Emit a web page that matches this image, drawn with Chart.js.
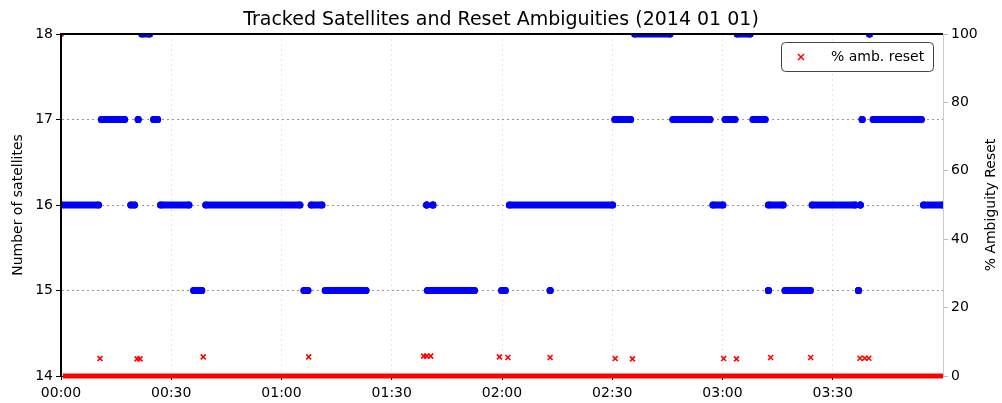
<!DOCTYPE html>
<html>
<head>
<meta charset="utf-8">
<script src="https://cdn.jsdelivr.net/npm/chart.js@4.4.0/dist/chart.umd.min.js"></script>
<style>
  html, body { margin: 0; padding: 0; background: #fff; }
  #wrap { width: 1002px; height: 403px; }
</style>
</head>
<body>
<div id="wrap"><canvas id="chart" width="1002" height="403"></canvas></div>
<script>
// DATA (time in minutes since 00:00)

// tracked satellites, stored as runs of constant count
const runStart = [0, 11.0, 19.0, 21.0, 22.0, 25.2, 27.1, 36.1, 39.4, 66.1, 68.1, 71.9,
                  99.5, 99.7, 101.2, 119.9, 122.0, 133.1, 150.7, 156.1, 166.5, 177.4,
                  180.7, 184.0, 188.3, 192.5, 192.5, 197.0, 204.4, 217.0, 217.5, 218.0,
                  220.0, 221.0, 234.7];
const runEnd   = [10.2, 17.3, 20.0, 21.0, 24.1, 26.3, 34.8, 38.3, 65.0, 67.2, 71.0, 83.0,
                  99.5, 112.5, 101.2, 120.9, 150.1, 133.1, 155.0, 165.7, 176.6, 180.1,
                  183.4, 187.5, 191.6, 196.5, 192.5, 203.9, 216.1, 217.0, 217.5, 218.0,
                  220.0, 234.1, 240];
const runSats  = [16, 17, 16, 17, 18, 17, 16, 15, 16, 15, 16, 15,
                  16, 15, 16, 15, 16, 15, 17, 18, 17, 16,
                  17, 18, 17, 16, 15, 15, 16, 15, 16, 17,
                  18, 17, 16];

// ambiguity resets (%)
const resetTimes = [0, 10.6, 20.7, 21.5, 38.7, 67.4, 98.7, 99.5, 100.6, 119.3, 121.6,
                    133.1, 150.8, 155.5, 180.3, 183.8, 193.1, 204.0, 217.4, 218.7, 219.8];
const resetPct   = [100, 5.1, 5.0, 5.0, 5.6, 5.6, 5.8, 5.8, 5.8, 5.6, 5.4,
                    5.4, 5.1, 5.0, 5.1, 5.0, 5.4, 5.4, 5.2, 5.2, 5.2];

// epochs with no reset (0 %)
const zeroTimes = [0.5, 240];
const zeroPct   = [0, 0];

// axes
const xTickValues = [0, 30, 60, 90, 120, 150, 180, 210];
const xTickLabels = ['00:00', '00:30', '01:00', '01:30', '02:00', '02:30', '03:00', '03:30'];
const satTicks = [14, 15, 16, 17, 18];
const pctTicks = [0, 20, 40, 60, 80, 100];

// build line data, one broken segment per run
function buildRuns() {
    const pts = [];
    for (let i = 0; i < runStart.length; i++) {
        pts.push({ x: runStart[i], y: runSats[i] });
        pts.push({ x: runEnd[i], y: runSats[i] });
        pts.push({ x: runEnd[i], y: null });
    }
    return pts;
}

const FONT = 'DejaVu Sans';
Chart.defaults.font.family = FONT;
Chart.defaults.font.size = 14;
Chart.defaults.color = '#000';

// top spine, right axis title and legend box
const extrasPlugin = {
    id: 'extras',
    afterDraw(chart) {
        const ctx = chart.ctx;
        const a = chart.chartArea;
        ctx.save();
        // top spine
        ctx.strokeStyle = '#000';
        ctx.lineWidth = 2;
        ctx.beginPath();
        ctx.moveTo(a.left - 1, a.top);
        ctx.lineTo(a.right, a.top);
        ctx.stroke();

        // right title, reading upwards
        ctx.translate(991, (a.top + a.bottom) / 2);
        ctx.rotate(-Math.PI / 2);
        ctx.font = '14px ' + FONT;
        ctx.textAlign = 'center';
        ctx.textBaseline = 'middle';
        ctx.fillStyle = '#000';
        ctx.fillText('% Ambiguity Reset', 0, 0);
        ctx.restore();

        // legend
        ctx.save();
        const lx = 781.5, ly = 42.5, lw = 152, lh = 29;
        ctx.fillStyle = '#fff';
        ctx.strokeStyle = '#444';
        ctx.lineWidth = 1;
        ctx.beginPath();
        ctx.roundRect(lx, ly, lw, lh, 4);
        ctx.fill();
        ctx.stroke();
        const mx = 801, my = ly + lh / 2, r = 3;
        ctx.strokeStyle = '#ff0000';
        ctx.lineWidth = 1.5;
        ctx.beginPath();
        ctx.moveTo(mx - r, my - r); ctx.lineTo(mx + r, my + r);
        ctx.moveTo(mx - r, my + r); ctx.lineTo(mx + r, my - r);
        ctx.stroke();
        ctx.fillStyle = '#000';
        ctx.font = '14px ' + FONT;
        ctx.textAlign = 'left';
        ctx.textBaseline = 'middle';
        ctx.fillText('% amb. reset', 831, my);
        ctx.restore();
    }
};

const ctx = document.getElementById('chart').getContext('2d');
const chart = new Chart(ctx, {
    type: 'line',
    data: {
        datasets: [
            {
                label: '% amb. reset',
                data: zeroTimes.map((t, i) => ({ x: t, y: zeroPct[i] })),
                yAxisID: 'y2',
                borderColor: '#ff0000',
                borderWidth: 5,
                pointRadius: 0,
                clip: false,
                order: 0
            },
            {
                label: 'resets',
                data: resetTimes.map((t, i) => ({ x: t, y: resetPct[i] })),
                yAxisID: 'y2',
                showLine: false,
                pointStyle: 'crossRot',
                pointRadius: 3.5,
                pointBorderWidth: 1.6,
                borderColor: '#ff0000',
                backgroundColor: '#ff0000',
                clip: 0,
                order: 1
            },
            {
                label: 'satellites',
                data: buildRuns(),
                yAxisID: 'y',
                borderColor: '#0000ff',
                backgroundColor: '#0000ff',
                borderWidth: 7,
                borderCapStyle: 'round',
                pointRadius: 3.5,
                pointBorderWidth: 0,
                spanGaps: false,
                clip: 0,
                order: 2
            }
        ]
    },
    options: {
        responsive: false,
        animation: false,
        layout: { padding: 0 },
        plugins: {
            legend: { display: false },
            tooltip: { enabled: false },
            title: {
                display: true,
                text: 'Tracked Satellites and Reset Ambiguities (2014 01 01)',
                font: { size: 19, weight: 'normal' },
                color: '#000',
                padding: { top: 9, bottom: 2.2 }
            }
        },
        scales: {
            x: {
                type: 'linear',
                min: 0,
                max: 240,
                afterBuildTicks: s => { s.ticks = xTickValues.map(v => ({ value: v })); },
                afterFit: s => { s.height = 27; },
                ticks: {
                    autoSkip: false,
                    maxRotation: 0,
                    padding: 5,
                    callback: v => xTickLabels[xTickValues.indexOf(v)]
                },
                grid: {
                    color: c => c.tick && c.tick.value > 0 ? 'rgba(0,0,0,0.10)' : 'rgba(0,0,0,0)',
                    tickColor: '#000',
                    tickLength: 4,
                    tickBorderDash: []
                },
                border: { color: '#000', width: 1, dash: [2, 3] }
            },
            y: {
                position: 'left',
                min: 14,
                max: 18,
                afterBuildTicks: s => { s.ticks = satTicks.map(v => ({ value: v })); },
                afterFit: s => { s.width = 61; },
                ticks: { padding: 3 },
                grid: {
                    color: c => c.tick && c.tick.value > 14 && c.tick.value < 18 ? 'rgba(0,0,0,0.4)' : 'rgba(0,0,0,0)',
                    tickColor: '#000',
                    tickLength: 5,
                    tickBorderDash: []
                },
                border: { color: '#000', width: 2, dash: [2, 3], z: 1 },
                title: {
                    display: true,
                    text: 'Number of satellites',
                    font: { size: 14 },
                    padding: { top: 10, bottom: 0 }
                }
            },
            y2: {
                position: 'right',
                min: 0,
                max: 100,
                afterBuildTicks: s => { s.ticks = pctTicks.map(v => ({ value: v })); },
                afterFit: s => { s.width = 59; },
                ticks: { padding: 3 },
                grid: {
                    drawOnChartArea: false,
                    tickColor: '#bbb',
                    tickLength: 5
                },
                border: { color: '#ccc', width: 1 }
            }
        }
    },
    plugins: [extrasPlugin]
});
</script>
</body>
</html>
